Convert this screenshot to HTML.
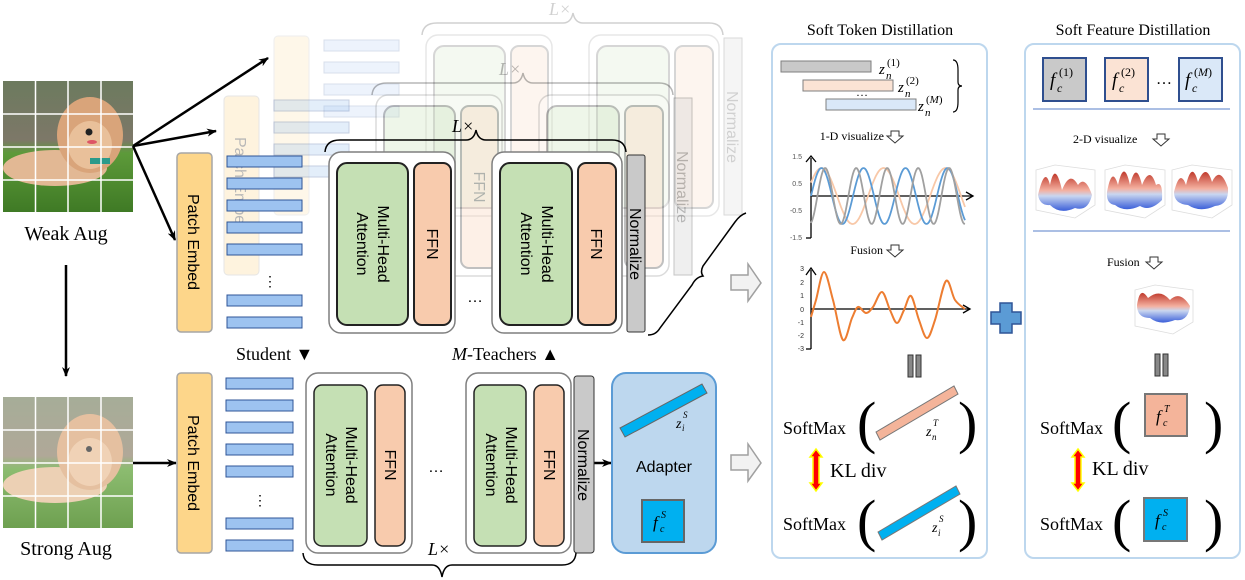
<!DOCTYPE html>
<html><head><meta charset="utf-8"><style>
html,body{margin:0;padding:0;background:#fff;}
svg{display:block;}
.s{font-family:"Liberation Sans",sans-serif;}
.r{font-family:"Liberation Serif",serif;}
.i{font-family:"Liberation Serif",serif;font-style:italic;}
</style></head><body>
<svg width="1245" height="580" viewBox="0 0 1245 580" xmlns="http://www.w3.org/2000/svg">
<defs>
<marker id="ah" markerWidth="10" markerHeight="8" refX="9" refY="4" orient="auto" markerUnits="userSpaceOnUse"><path d="M0,0 L10,4 L0,8 L3,4z" fill="#000"/></marker>
<linearGradient id="surf" x1="0" y1="0" x2="0" y2="1"><stop offset="0" stop-color="#c0392b"/><stop offset=".45" stop-color="#f4b0a0"/><stop offset=".6" stop-color="#c9d6f0"/><stop offset="1" stop-color="#3b5fd9"/></linearGradient>
<linearGradient id="grass" x1="0" y1="0" x2="0" y2="1"><stop offset="0" stop-color="#6c7a5e"/><stop offset=".45" stop-color="#7d7868"/><stop offset=".55" stop-color="#5d9a3a"/><stop offset="1" stop-color="#3f7a25"/></linearGradient>
<linearGradient id="grass2" x1="0" y1="0" x2="0" y2="1"><stop offset="0" stop-color="#a6ad98"/><stop offset=".45" stop-color="#b0a898"/><stop offset=".55" stop-color="#8cbc70"/><stop offset="1" stop-color="#6ea050"/></linearGradient>
</defs>

<!-- Weak image -->
<rect x="3" y="81" width="130" height="131" fill="url(#grass)"/>
<ellipse cx="55" cy="168" rx="52" ry="18" fill="#e2b894"/>
<ellipse cx="90" cy="135" rx="33" ry="38" fill="#d9a47a"/>
<ellipse cx="90" cy="145" rx="22" ry="24" fill="#e9c09a"/>
<circle cx="89" cy="132" r="3.5" fill="#222"/>
<ellipse cx="92" cy="142" rx="5" ry="2" fill="#d56"/>
<rect x="90" y="158" width="20" height="6" fill="#2b9a8a"/>
<g stroke="#fff" stroke-width="1.5"><line x1="35.5" y1="81" x2="35.5" y2="212"/><line x1="68" y1="81" x2="68" y2="212"/><line x1="101" y1="81" x2="101" y2="212"/><line x1="3" y1="114" x2="133" y2="114"/><line x1="3" y1="147" x2="133" y2="147"/><line x1="3" y1="180" x2="133" y2="180"/></g>
<text x="66" y="240" class="r" font-size="20" text-anchor="middle">Weak Aug</text>

<!-- Strong image -->
<rect x="3" y="397" width="130" height="131" fill="url(#grass2)"/>
<ellipse cx="55" cy="485" rx="52" ry="18" fill="#ecd0b4"/>
<ellipse cx="90" cy="452" rx="33" ry="38" fill="#e5c0a0"/>
<ellipse cx="90" cy="462" rx="22" ry="24" fill="#f0d2b6"/>
<circle cx="89" cy="449" r="3" fill="#666"/>
<g stroke="#fff" stroke-width="1.5"><line x1="35.5" y1="397" x2="35.5" y2="528"/><line x1="68" y1="397" x2="68" y2="528"/><line x1="101" y1="397" x2="101" y2="528"/><line x1="3" y1="430" x2="133" y2="430"/><line x1="3" y1="463" x2="133" y2="463"/><line x1="3" y1="496" x2="133" y2="496"/></g>
<text x="66" y="555" class="r" font-size="20" text-anchor="middle">Strong Aug</text>

<!-- arrows -->
<g stroke="#000" stroke-width="2.5" fill="none">
<line x1="133" y1="146" x2="268" y2="58" marker-end="url(#ah)"/>
<line x1="133" y1="146" x2="216" y2="131" marker-end="url(#ah)"/>
<line x1="133" y1="146" x2="175" y2="240" marker-end="url(#ah)"/>
<line x1="66" y1="265" x2="66" y2="376" marker-end="url(#ah)"/>
<line x1="133" y1="463" x2="176" y2="463" marker-end="url(#ah)"/>
<line x1="594" y1="463" x2="611" y2="463" marker-end="url(#ah)"/>
</g>

<!-- back layer 3 -->
<g transform="translate(97,-117)" opacity="0.18">
<rect x="177" y="153" width="35" height="179" rx="4" fill="#fdd68a" stroke="#a6a6a6"/>
<g fill="#9dc3f0" stroke="#2f5597"><rect x="227" y="157" width="75" height="11"/><rect x="227" y="179" width="75" height="11"/><rect x="227" y="201" width="75" height="11"/><rect x="227" y="223" width="75" height="11"/></g>
<rect x="329" y="152" width="126" height="181" rx="12" fill="#fff" stroke="#7f7f7f" stroke-width="1.5"/>
<rect x="337" y="163" width="71" height="162" rx="10" fill="#c5e0b4" stroke="#222" stroke-width="2"/>
<rect x="414" y="163" width="37" height="162" rx="8" fill="#f8cbad" stroke="#222" stroke-width="2"/>
<rect x="492" y="152" width="130" height="181" rx="12" fill="#fff" stroke="#7f7f7f" stroke-width="1.5"/>
<rect x="500" y="163" width="72" height="162" rx="10" fill="#c5e0b4" stroke="#222" stroke-width="2"/>
<rect x="578" y="163" width="38" height="162" rx="8" fill="#f8cbad" stroke="#222" stroke-width="2"/>
<rect x="627" y="155" width="18" height="177" fill="#c9c9c9" stroke="#333"/>
<text transform="translate(630,244) rotate(90)" class="s" font-size="16" text-anchor="middle">Normalize</text>
<path d="M325,152 Q326,140 340,140 L466,140 Q474,140 476,130 Q478,140 486,140 L612,140 Q625,140 626,152" fill="none" stroke="#000" stroke-width="1.5"/>
<text x="452" y="132" class="r" font-size="18" font-style="italic">L×</text>
</g>

<!-- back layer 2 -->
<g transform="translate(47,-57)" opacity="0.28">
<rect x="177" y="153" width="35" height="179" rx="4" fill="#fdd68a" stroke="#a6a6a6"/>
<text transform="translate(188,242) rotate(90)" class="s" font-size="16" text-anchor="middle">Patch Embed</text>
<g fill="#9dc3f0" stroke="#2f5597"><rect x="227" y="157" width="75" height="11"/><rect x="227" y="179" width="75" height="11"/><rect x="227" y="201" width="75" height="11"/><rect x="227" y="223" width="75" height="11"/></g>
<rect x="329" y="152" width="126" height="181" rx="12" fill="#fff" stroke="#7f7f7f" stroke-width="1.5"/>
<rect x="337" y="163" width="71" height="162" rx="10" fill="#c5e0b4" stroke="#222" stroke-width="2"/>
<rect x="414" y="163" width="37" height="162" rx="8" fill="#f8cbad" stroke="#222" stroke-width="2"/>
<text transform="translate(427,244) rotate(90)" class="s" font-size="16" text-anchor="middle">FFN</text>
<rect x="492" y="152" width="130" height="181" rx="12" fill="#fff" stroke="#7f7f7f" stroke-width="1.5"/>
<rect x="500" y="163" width="72" height="162" rx="10" fill="#c5e0b4" stroke="#222" stroke-width="2"/>
<rect x="578" y="163" width="38" height="162" rx="8" fill="#f8cbad" stroke="#222" stroke-width="2"/>
<rect x="627" y="155" width="18" height="177" fill="#c9c9c9" stroke="#333"/>
<text transform="translate(630,244) rotate(90)" class="s" font-size="16" text-anchor="middle">Normalize</text>
<path d="M325,152 Q326,140 340,140 L466,140 Q474,140 476,130 Q478,140 486,140 L612,140 Q625,140 626,152" fill="none" stroke="#000" stroke-width="1.5"/>
<text x="452" y="132" class="r" font-size="18" font-style="italic">L×</text>
</g>

<!-- front teacher -->
<g>
<rect x="177" y="153" width="35" height="179" rx="4" fill="#fdd68a" stroke="#a6a6a6" stroke-width="1.5"/>
<text transform="translate(188,242) rotate(90)" class="s" font-size="16" text-anchor="middle">Patch Embed</text>
<g fill="#9dc3f0" stroke="#2f5597"><rect x="227" y="156" width="75" height="11"/><rect x="227" y="178" width="75" height="11"/><rect x="227" y="200" width="75" height="11"/><rect x="227" y="222" width="75" height="11"/><rect x="227" y="244" width="75" height="11"/><rect x="227" y="295" width="75" height="11"/><rect x="227" y="317" width="75" height="11"/></g>
<text x="270" y="286" class="s" font-size="14" text-anchor="middle">⋮</text>
<rect x="329" y="152" width="126" height="181" rx="12" fill="#fff" stroke="#7f7f7f" stroke-width="1.5"/>
<rect x="337" y="163" width="71" height="162" rx="10" fill="#c5e0b4" stroke="#222" stroke-width="2"/>
<text transform="translate(378,244) rotate(90)" class="s" font-size="16" text-anchor="middle">Multi-Head</text>
<text transform="translate(357,244) rotate(90)" class="s" font-size="16" text-anchor="middle">Attention</text>
<rect x="414" y="163" width="37" height="162" rx="8" fill="#f8cbad" stroke="#222" stroke-width="2"/>
<text transform="translate(427,244) rotate(90)" class="s" font-size="16" text-anchor="middle">FFN</text>
<text x="475" y="302" class="s" font-size="16" text-anchor="middle">…</text>
<rect x="492" y="152" width="130" height="181" rx="12" fill="#fff" stroke="#7f7f7f" stroke-width="1.5"/>
<rect x="500" y="163" width="72" height="162" rx="10" fill="#c5e0b4" stroke="#222" stroke-width="2"/>
<text transform="translate(542,244) rotate(90)" class="s" font-size="16" text-anchor="middle">Multi-Head</text>
<text transform="translate(521,244) rotate(90)" class="s" font-size="16" text-anchor="middle">Attention</text>
<rect x="578" y="163" width="38" height="162" rx="8" fill="#f8cbad" stroke="#222" stroke-width="2"/>
<text transform="translate(591,244) rotate(90)" class="s" font-size="16" text-anchor="middle">FFN</text>
<rect x="627" y="155" width="18" height="177" rx="2" fill="#c9c9c9" stroke="#333"/>
<text transform="translate(630,244) rotate(90)" class="s" font-size="16" text-anchor="middle">Normalize</text>
<path d="M325,152 Q326,140 340,140 L466,140 Q474,140 476,130 Q478,140 486,140 L612,140 Q625,140 626,152" fill="none" stroke="#000" stroke-width="1.5"/>
<text x="452" y="132" class="r" font-size="18" font-style="italic">L×</text>
<path d="M648,335 Q656,335 660,328 L692,285 Q696,277 703,276 Q700,272 703,266 L735,222 Q740,215 746,213" fill="none" stroke="#000" stroke-width="1.5"/>
</g>

<text x="236" y="360" class="r" font-size="18">Student ▼</text>
<text x="452" y="360" class="r" font-size="18"><tspan font-style="italic">M</tspan>-Teachers ▲</text>

<!-- student -->
<rect x="177" y="373" width="35" height="180" rx="4" fill="#fdd68a" stroke="#a6a6a6" stroke-width="1.5"/>
<text transform="translate(188,463) rotate(90)" class="s" font-size="16" text-anchor="middle">Patch Embed</text>
<g fill="#9dc3f0" stroke="#2f5597"><rect x="226" y="378" width="67" height="11"/><rect x="226" y="400" width="67" height="11"/><rect x="226" y="422" width="67" height="11"/><rect x="226" y="444" width="67" height="11"/><rect x="226" y="466" width="67" height="11"/><rect x="226" y="518" width="67" height="11"/><rect x="226" y="540" width="67" height="11"/></g>
<text x="260" y="505" class="s" font-size="14" text-anchor="middle">⋮</text>
<rect x="306" y="373" width="106" height="180" rx="12" fill="#fff" stroke="#7f7f7f" stroke-width="1.5"/>
<rect x="314" y="385" width="53" height="161" rx="8" fill="#c5e0b4" stroke="#222" stroke-width="1.5"/>
<text transform="translate(346,465) rotate(90)" class="s" font-size="16" text-anchor="middle">Multi-Head</text>
<text transform="translate(326,465) rotate(90)" class="s" font-size="16" text-anchor="middle">Attention</text>
<rect x="375" y="385" width="30" height="161" rx="8" fill="#f8cbad" stroke="#222" stroke-width="1.5"/>
<text transform="translate(385,465) rotate(90)" class="s" font-size="16" text-anchor="middle">FFN</text>
<text x="436" y="472" class="s" font-size="16" text-anchor="middle">…</text>
<rect x="466" y="373" width="105" height="180" rx="12" fill="#fff" stroke="#7f7f7f" stroke-width="1.5"/>
<rect x="474" y="385" width="52" height="161" rx="8" fill="#c5e0b4" stroke="#222" stroke-width="1.5"/>
<text transform="translate(506,465) rotate(90)" class="s" font-size="16" text-anchor="middle">Multi-Head</text>
<text transform="translate(486,465) rotate(90)" class="s" font-size="16" text-anchor="middle">Attention</text>
<rect x="534" y="385" width="30" height="161" rx="8" fill="#f8cbad" stroke="#222" stroke-width="1.5"/>
<text transform="translate(544,465) rotate(90)" class="s" font-size="16" text-anchor="middle">FFN</text>
<rect x="574" y="376" width="20" height="177" rx="3" fill="#c9c9c9" stroke="#333"/>
<text transform="translate(578,465) rotate(90)" class="s" font-size="16" text-anchor="middle">Normalize</text>
<text x="428" y="555" class="r" font-size="18" font-style="italic">L×</text>
<path d="M303,553 Q304,565 318,565 L432,565 Q440,565 442,577 Q444,565 452,565 L562,565 Q575,565 576,553" fill="none" stroke="#000" stroke-width="1.5"/>

<!-- adapter -->
<rect x="612" y="373" width="104" height="180" rx="14" fill="#bdd7ee" stroke="#5b9bd5" stroke-width="2"/>
<polygon points="620,428 702,384 707,393 625,437" fill="#00b0f0" stroke="#666"/>
<text x="676" y="428" class="i" font-size="14">z</text><text x="683" y="418" class="i" font-size="9">S</text><text x="682" y="431" class="i" font-size="9">i</text>
<text x="664" y="472" class="s" font-size="16" text-anchor="middle">Adapter</text>
<rect x="642" y="500" width="42" height="42" fill="#00b0f0" stroke="#666" stroke-width="2"/>
<text x="653" y="528" class="i" font-size="17">f</text><text x="661" y="518" class="i" font-size="10">S</text><text x="660" y="532" class="i" font-size="10">c</text>

<!-- hollow arrows -->
<g fill="#f2f2f2" stroke="#a0a0a0" stroke-width="1.5">
<polygon points="731,275 748,275 748,264 761,283 748,301 748,290 731,290"/>
<polygon points="731,455 748,455 748,444 761,463 748,481 748,470 731,470"/>
</g>

<!-- panels -->
<text x="880" y="35" class="r" font-size="16" text-anchor="middle">Soft Token Distillation</text>
<text x="1133" y="35" class="r" font-size="16" text-anchor="middle">Soft Feature Distillation</text>
<rect x="772" y="44" width="215" height="514" rx="9" fill="#fff" stroke="#bdd7ee" stroke-width="2"/>
<rect x="1025" y="44" width="215" height="514" rx="9" fill="#fff" stroke="#bdd7ee" stroke-width="2"/>

<!-- panel 1 -->
<rect x="781" y="61" width="90" height="11" fill="#c9c9c9" stroke="#7f7f7f"/>
<rect x="803" y="80" width="90" height="11" fill="#fbe3d4" stroke="#7f7f7f"/>
<rect x="826" y="99" width="90" height="11" fill="#dae8f8" stroke="#7f7f7f"/>
<text x="879" y="74" class="i" font-size="15">z</text><text x="887" y="66" class="r" font-size="11">(1)</text><text x="886" y="79" class="i" font-size="11">n</text>
<text x="898" y="92" class="i" font-size="15">z</text><text x="906" y="84" class="r" font-size="11">(2)</text><text x="905" y="97" class="i" font-size="11">n</text>
<text x="918" y="111" class="i" font-size="15">z</text><text x="926" y="103" class="r" font-size="11">(<tspan font-style="italic">M</tspan>)</text><text x="925" y="116" class="i" font-size="11">n</text>
<text x="862" y="96" class="r" font-size="12" text-anchor="middle">…</text>
<path d="M953,60 Q958,60 958,70 L958,82 Q958,86 962,86 Q958,86 958,90 L958,102 Q958,112 953,112" fill="none" stroke="#000" stroke-width="1.2"/>
<text x="884" y="140" class="r" font-size="12" text-anchor="end">1-D visualize</text>
<path d="M891,131 L899,131 L899,136 L903,136 L895,143 L887,136 L891,136z" fill="#fff" stroke="#333"/>

<!-- chart1 -->
<g class="s" font-size="7" fill="#555" text-anchor="end">
<text x="802" y="159">1.5</text><text x="802" y="186">0.5</text><text x="802" y="213">-0.5</text><text x="802" y="240">-1.5</text></g>
<g stroke="#000" stroke-width="1.3" fill="none">
<path d="M811,238 L811,158"/><path d="M806,162 L811,156 L816,162"/>
<path d="M806,238 L811,238"/>
<path d="M811,196 L972,196"/><path d="M966,192 L973,196 L966,200"/>
</g>
<path id="c1" fill="none" stroke="#f8c8a8" stroke-width="1.8" d=""/>
<path id="c2" fill="none" stroke="#5b9bd5" stroke-width="1.8" d=""/>
<path id="c3" fill="none" stroke="#a0a0a0" stroke-width="1.8" d=""/>
<text x="883" y="254" class="r" font-size="12" text-anchor="end">Fusion</text>
<path d="M891,245 L899,245 L899,250 L903,250 L895,257 L887,250 L891,250z" fill="#fff" stroke="#333"/>

<!-- chart2 -->
<g class="s" font-size="7" fill="#333" text-anchor="end">
<text x="804" y="271">3</text><text x="804" y="285">2</text><text x="804" y="298">1</text><text x="804" y="312">0</text><text x="804" y="325">-1</text><text x="804" y="338">-2</text><text x="804" y="351">-3</text></g>
<g stroke="#000" stroke-width="1.3" fill="none">
<path d="M811,349 L811,270"/><path d="M806,275 L811,268 L816,275"/><path d="M806,349 L811,349"/>
<path d="M811,309 L970,309"/><path d="M963,305 L970,309 L963,313"/>
</g>
<path id="c4" fill="none" stroke="#ed7d31" stroke-width="2" d=""/>

<g fill="#888" stroke="#333"><rect x="908" y="355" width="5" height="22"/><rect x="916" y="355" width="5" height="22"/></g>

<text x="783" y="434" class="r" font-size="18">SoftMax</text>
<text x="857" y="442" class="r" font-size="58">(</text>
<text x="958" y="442" class="r" font-size="58">)</text>
<polygon points="876,432 954,386 958,394 880,440" fill="#f4b49a" stroke="#777"/>
<text x="926" y="436" class="i" font-size="14">z</text><text x="933" y="426" class="i" font-size="9">T</text><text x="932" y="440" class="i" font-size="9">n</text>
<polygon points="816,449 822,457 819,457 819,483 822,483 816,491 810,483 813,483 813,457 810,457" fill="#f00" stroke="#ff0" stroke-width="1.5"/>
<text x="830" y="477" class="r" font-size="20">KL div</text>
<text x="783" y="530" class="r" font-size="18">SoftMax</text>
<text x="857" y="540" class="r" font-size="58">(</text>
<text x="958" y="540" class="r" font-size="58">)</text>
<polygon points="878,532 956,486 960,494 882,540" fill="#00b0f0" stroke="#777"/>
<text x="932" y="532" class="i" font-size="14">z</text><text x="939" y="522" class="i" font-size="9">S</text><text x="938" y="536" class="i" font-size="9">i</text>

<!-- plus -->
<path d="M1000,303 L1012,303 L1012,312 L1021,312 L1021,324 L1012,324 L1012,333 L1000,333 L1000,324 L991,324 L991,312 L1000,312z" fill="#5b9bd5" stroke="#2f5597" stroke-width="1.5"/>

<!-- panel 2 -->
<rect x="1043" y="58" width="43" height="43" fill="#c9c9c9" stroke="#2f4f8f" stroke-width="2"/>
<rect x="1105" y="58" width="43" height="43" fill="#fbe3d4" stroke="#2f4f8f" stroke-width="2"/>
<rect x="1179" y="58" width="43" height="43" fill="#dae8f8" stroke="#2f4f8f" stroke-width="2"/>
<text x="1050" y="86" class="i" font-size="19">f</text><text x="1059" y="76" class="r" font-size="12">(1)</text><text x="1057" y="92" class="i" font-size="12">c</text>
<text x="1112" y="86" class="i" font-size="19">f</text><text x="1121" y="76" class="r" font-size="12">(2)</text><text x="1119" y="92" class="i" font-size="12">c</text>
<text x="1185" y="86" class="i" font-size="19">f</text><text x="1194" y="76" class="r" font-size="12">(<tspan font-style="italic">M</tspan>)</text><text x="1192" y="92" class="i" font-size="12">c</text>
<text x="1164" y="84" class="r" font-size="16" text-anchor="middle">…</text>
<line x1="1033" y1="109" x2="1230" y2="109" stroke="#8faadc" stroke-width="1.5"/>
<text x="1073" y="143" class="r" font-size="12">2-D visualize</text>
<path d="M1157,134 L1165,134 L1165,139 L1169,139 L1161,146 L1153,139 L1157,139z" fill="#fff" stroke="#333"/>

<g stroke="#ddd" stroke-width="0.8" fill="none">
<path d="M1036,170 L1055,165 L1095,170 L1095,205 L1075,218 L1036,210z"/>
<path d="M1105,170 L1125,165 L1165,170 L1165,205 L1145,218 L1105,210z"/>
<path d="M1172,170 L1192,165 L1232,170 L1232,205 L1212,218 L1172,210z"/>
<path d="M1135,290 L1155,285 L1193,290 L1193,322 L1173,334 L1135,326z"/>
</g>
<g fill="url(#surf)">
<path d="M1038,195 Q1045,165 1050,185 Q1055,160 1062,190 Q1070,170 1078,185 Q1085,175 1092,195 Q1088,212 1075,208 Q1060,215 1050,205 Q1040,206 1038,195z"/>
<path d="M1107,192 Q1112,165 1118,185 Q1124,158 1130,185 Q1136,160 1142,185 Q1150,165 1156,185 Q1163,180 1162,200 Q1150,212 1140,206 Q1125,213 1115,205 Q1106,204 1107,192z"/>
<path d="M1174,192 Q1180,168 1186,185 Q1192,160 1198,182 Q1206,162 1212,182 Q1220,165 1228,188 Q1229,205 1215,206 Q1200,213 1188,205 Q1174,204 1174,192z"/>
<path d="M1137,305 Q1140,285 1148,298 Q1160,288 1170,300 Q1180,290 1190,306 Q1188,322 1175,320 Q1160,326 1150,318 Q1137,318 1137,305z"/>
</g>
<line x1="1033" y1="231" x2="1230" y2="231" stroke="#8faadc" stroke-width="1.5"/>
<text x="1107" y="266" class="r" font-size="12">Fusion</text>
<path d="M1150,257 L1158,257 L1158,262 L1162,262 L1154,269 L1146,262 L1150,262z" fill="#fff" stroke="#333"/>

<g fill="#888" stroke="#333"><rect x="1155" y="354" width="5" height="22"/><rect x="1163" y="354" width="5" height="22"/></g>

<text x="1040" y="434" class="r" font-size="18">SoftMax</text>
<text x="1112" y="442" class="r" font-size="58">(</text>
<text x="1204" y="442" class="r" font-size="58">)</text>
<rect x="1145" y="394" width="42" height="42" fill="#f4b49a" stroke="#777" stroke-width="2"/>
<text x="1156" y="422" class="i" font-size="17">f</text><text x="1164" y="412" class="i" font-size="10">T</text><text x="1163" y="426" class="i" font-size="10">c</text>
<polygon points="1078,449 1084,457 1081,457 1081,483 1084,483 1078,491 1072,483 1075,483 1075,457 1072,457" fill="#f00" stroke="#ff0" stroke-width="1.5"/>
<text x="1092" y="475" class="r" font-size="20">KL div</text>
<text x="1040" y="530" class="r" font-size="18">SoftMax</text>
<text x="1112" y="540" class="r" font-size="58">(</text>
<text x="1204" y="540" class="r" font-size="58">)</text>
<rect x="1144" y="498" width="43" height="43" fill="#00b0f0" stroke="#777" stroke-width="2"/>
<text x="1155" y="526" class="i" font-size="17">f</text><text x="1163" y="516" class="i" font-size="10">S</text><text x="1162" y="530" class="i" font-size="10">c</text>
</svg>
<script>
function sine(id,per,ph,x0,x1){var d="";for(var x=x0;x<=x1;x+=1){var y=196-28*Math.sin((x-x0)/per*2*Math.PI+ph);d+=(d?"L":"M")+x+","+y.toFixed(1);}document.getElementById(id).setAttribute("d",d);}
sine("c1",62,0.5,811,965);sine("c2",42,0,811,965);sine("c3",31,-1.3,811,965);
var pts=[[811,317],[816,300],[824,272],[833,300],[843,340],[852,318],[858,307],[866,313],[873,307],[882,292],[890,310],[897,323],[904,310],[911,296],[919,320],[927,338],[935,320],[946,281],[955,300],[965,309]];
var d="M"+pts[0][0]+","+pts[0][1];
for(var i=0;i<pts.length-1;i++){var p0=pts[Math.max(i-1,0)],p1=pts[i],p2=pts[i+1],p3=pts[Math.min(i+2,pts.length-1)];
d+="C"+(p1[0]+(p2[0]-p0[0])/6)+","+(p1[1]+(p2[1]-p0[1])/6)+" "+(p2[0]-(p3[0]-p1[0])/6)+","+(p2[1]-(p3[1]-p1[1])/6)+" "+p2[0]+","+p2[1];}
document.getElementById("c4").setAttribute("d",d);
</script>
</body></html>
